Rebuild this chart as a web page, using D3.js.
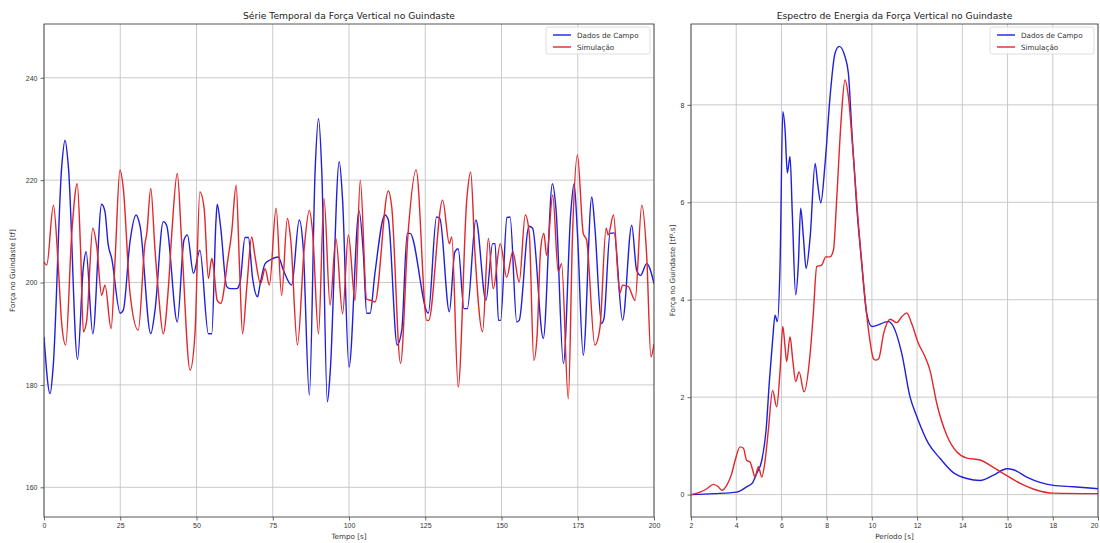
<!DOCTYPE html>
<html>
<head>
<meta charset="utf-8">
<script src="https://cdn.jsdelivr.net/npm/d3@7/dist/d3.min.js"></script>
<style>
  html, body { margin: 0; padding: 0; background: #fff; }
  svg { display: block; font-family: "DejaVu Sans", sans-serif; }
  .tick text { fill: #333; font-size: 7px; }
  .tick line { stroke: #444; }
</style>
</head>
<body>
<svg id="chart" width="1100" height="543"></svg>
<script>
// ---- Série temporal (força vertical, tf) ----
const timeField = [0,2,3,5.8,6.9,8,11,12.9,13.8,16,18.9,20,21,22.2,25,26,28.2,30.2,31.5,35,36.4,39.1,40.2,43.7,45.9,47,49,51.1,53.9,55,56.4,56.8,57.9,59.9,61,63.2,64.3,65.9,67,68.4,70,70.8,72.5,74.1,76.8,78.5,81.2,83.7,85,87,88.9,90,91.1,92.9,93.8,96.8,97.9,100,103.3,104.7,105.8,106.9,108.5,111.8,112.9,115.8,117.3,119.1,120,126,128.7,129.8,132.9,134.7,135.8,137.7,138.8,141.6,144.9,147.1,147.9,149,149.7,151.8,152.8,155,155.8,159,160.2,163.7,166.7,167.9,170.3,172.7,173.8,174.9,176.8,179.6,180.6,182.8,183.6,185.6,186.9,189.7,192.7,194.3,195.6,197.6,200];
const forceField = [189.4,178.3,183.5,222.6,227.8,222.6,185,203,206,190,215.3,213.8,207.6,204.7,194,194.6,208,213.2,211,190,194.6,211.9,211.2,192.3,208.3,209.3,201.8,206.3,190,190,212.2,215.3,210.9,199.2,198.8,198.8,200.1,208.8,208.8,200.8,197.2,199.5,203.7,204.4,205,202.4,199.5,212.2,206.6,178,222,232,221.3,176.7,182.2,223.6,216.1,183.5,214,205.7,194,194,201.8,213.2,212.2,187.8,190.7,209.6,209.6,194,212.8,212.5,194.3,206,206.6,194.9,194.9,212.2,196.5,207.6,207.6,192.6,192.6,212.7,212.8,192.3,192.6,211,210.6,189.1,219.3,214.1,184.2,213.5,219.3,209.6,185.8,216.7,210.9,192,193,209.6,209.7,192.6,211.2,202.4,201.4,203.7,199.8];

const timeSim = [0,0.9,3.1,4.7,5.8,7.1,9.1,10.9,12,12.9,14,16,17.3,18.9,20,22,23.3,24.9,26,28.2,30.9,33.1,33.7,35,36.4,37.5,39.1,40.8,41.9,43.7,45.1,47.9,49.5,51.1,52.5,53.9,55,55.5,56.8,57.9,60.4,61.5,63,64.1,65.1,66.5,68.1,69.2,71,72.5,73.9,76.1,77.9,79.8,80.9,83.1,85.3,87,88.1,90,91.8,93.8,95.7,97.9,99.8,102,103.7,105.8,107.4,108.5,112.9,114,116.9,119.4,122,125.5,126.1,130.7,132.9,133.7,135.8,138.6,139.9,141.3,143.8,145.7,147.3,149.6,151.7,153.7,155.8,157.8,159.1,160.6,161.7,162.8,163.9,164.8,166.8,168.6,169.7,171.9,173.3,174.9,176.8,177.9,180.6,182.3,184.3,185,186.7,188.8,189.7,191.6,193.8,196,197.6,199,200];
const forceSim = [204,203.4,215.1,203,192,187.8,209.6,219.3,206.3,190.4,192.6,210.6,207,197.5,199.5,191,204.4,222,218.4,197.9,190.7,207.6,209.6,218.4,206.3,198.2,190,199.2,209.6,221.3,208.3,182.9,190,217.7,214.5,200.8,204.7,203.4,196.5,195.9,205,209.6,219,203.1,190,199.2,208.9,205,199.8,202.7,199.5,214.5,197.5,212.5,208.3,187.8,206.6,214.1,209.6,190,216.4,195.6,208.6,193.9,209.3,196.5,220,196.7,196.5,196.2,217.9,214.8,184.2,209.9,222,192.6,192.6,216.1,207.6,208.9,179.6,216.1,221.6,205.7,190.4,208.6,198.8,207.6,201,206,200.1,213.2,209.6,184.8,190,206.3,209.6,205.3,217.1,202.1,203.7,177.3,209.6,224.9,209.6,208.3,187.8,191.3,210.6,209.3,213.2,197.9,199.5,199.2,196.5,215.1,205.3,185.5,188];

// ---- Espectro de energia (tf².s) ----
const periodField = [2,3,4.02,4.46,4.7,4.9,5.13,5.32,5.47,5.61,5.72,5.82,5.94,6.06,6.16,6.26,6.38,6.48,6.63,6.75,6.85,6.97,7.09,7.27,7.49,7.6,7.74,7.93,8.15,8.37,8.56,8.81,8.96,9.11,9.33,9.55,9.77,10,10.73,10.95,11.32,11.69,11.99,12.5,13.02,13.6,14.2,14.79,15.38,15.97,16.26,16.85,17.44,18.03,18.91,20];
const energyField = [0,0.02,0.05,0.16,0.23,0.43,0.7,1.32,2.35,3.17,3.68,3.55,4.75,7.86,7.49,6.6,6.94,5.77,4.1,4.75,5.88,5.29,4.64,5.29,6.8,6.39,5.99,6.8,8.17,9.06,9.2,8.99,8.65,7.49,5.91,4.75,3.72,3.45,3.55,3.45,2.9,2.0,1.6,1.05,0.74,0.45,0.33,0.29,0.4,0.53,0.51,0.36,0.25,0.19,0.16,0.12];

const periodSim = [2,2.4,2.7,2.99,3.21,3.36,3.58,3.8,3.95,4.17,4.32,4.46,4.61,4.73,4.83,4.98,5.13,5.27,5.42,5.61,5.79,5.94,6.06,6.16,6.23,6.38,6.5,6.63,6.78,7,7.27,7.41,7.56,7.78,7.96,8.15,8.3,8.45,8.64,8.81,8.96,9.18,9.4,9.63,9.85,10.07,10.15,10.3,10.52,10.81,11.1,11.32,11.54,11.76,12.06,12.35,12.57,12.87,13.31,13.75,14.2,14.79,15.23,15.82,16.56,17.3,18.03,20];
const energySim = [0,0.05,0.12,0.21,0.16,0.09,0.19,0.43,0.7,0.98,0.95,0.7,0.67,0.5,0.36,0.57,0.36,0.67,1.32,2.14,1.8,2.55,3.45,3.03,2.73,3.24,2.76,2.32,2.52,2.11,2.9,3.72,4.68,4.71,4.88,4.88,5.02,6.12,7.69,8.51,8.17,6.94,5.57,4.34,3.38,2.79,2.76,2.79,3.31,3.6,3.53,3.65,3.73,3.51,3.1,2.83,2.55,1.87,1.22,0.88,0.75,0.71,0.6,0.43,0.23,0.09,0.03,0.02];

const timeTicks = [0,25,50,75,100,125,150,175,200];
const forceTicks = [160,180,200,220,240];
const periodTicks = [2,4,6,8,10,12,14,16,18,20];
const energyTicks = [0,2,4,6,8];

const seriesNames = ["Dados de Campo", "Simulação"];
const seriesColors = ["#1f1fdc", "#e3262a"];

const svg = d3.select("#chart");

function panel(cfg) {
  const { x0, x1, y0, y1 } = cfg;
  const x = d3.scaleLinear().domain(cfg.xDomain).range([x0, x1]);
  const y = d3.scaleLinear().domain(cfg.yDomain).range([y1, y0]);
  const g = svg.append("g");

  // grid
  g.append("g").selectAll("line").data(cfg.xTicks).join("line")
    .attr("x1", d => x(d)).attr("x2", d => x(d)).attr("y1", y0).attr("y2", y1)
    .attr("stroke", "#c4c4c4").attr("stroke-width", 0.9);
  g.append("g").selectAll("line").data(cfg.yTicks).join("line")
    .attr("x1", x0).attr("x2", x1).attr("y1", d => y(d)).attr("y2", d => y(d))
    .attr("stroke", "#c4c4c4").attr("stroke-width", 0.9);

  // series
  const clipId = "clip" + Math.round(x0);
  svg.append("clipPath").attr("id", clipId).append("rect")
    .attr("x", x0).attr("y", y0).attr("width", x1 - x0).attr("height", y1 - y0);
  const line = d3.line().x(d => x(d[0])).y(d => y(d[1])).curve(d3.curveMonotoneX);
  cfg.series.forEach((s, i) => {
    g.append("path")
      .datum(d3.zip(s[0], s[1]))
      .attr("clip-path", `url(#${clipId})`)
      .attr("fill", "none")
      .attr("stroke", seriesColors[i])
      .attr("stroke-width", 1.4)
      .attr("stroke-linejoin", "round")
      .attr("d", line);
  });

  // axes
  const ax = g.append("g").attr("transform", `translate(0,${y1})`)
    .call(d3.axisBottom(x).tickValues(cfg.xTicks).tickSize(3.5).tickPadding(3));
  const ay = g.append("g").attr("transform", `translate(${x0},0)`)
    .call(d3.axisLeft(y).tickValues(cfg.yTicks).tickSize(3.5).tickPadding(3));
  ax.select(".domain").remove();
  ay.select(".domain").remove();
  g.selectAll(".tick line").attr("stroke", "#444").attr("stroke-width", 0.8);
  // keep the last x tick label inside the page
  ax.selectAll(".tick text").filter(d => x(d) > 1090).attr("text-anchor", "end").attr("dx", 0);

  // frame
  g.append("rect").attr("x", x0).attr("y", y0).attr("width", x1 - x0).attr("height", y1 - y0)
    .attr("fill", "none").attr("stroke", "#444").attr("stroke-width", 0.9);

  // title and labels
  g.append("text").attr("x", (x0 + x1) / 2).attr("y", 19).attr("text-anchor", "middle")
    .attr("font-size", 9.2).attr("fill", "#222").text(cfg.title);
  g.append("text").attr("x", (x0 + x1) / 2).attr("y", 539).attr("text-anchor", "middle")
    .attr("font-size", 7.2).attr("fill", "#333").text(cfg.xLabel);
  g.append("text").attr("transform", `translate(${cfg.yLabelX},${(y0 + y1) / 2}) rotate(-90)`)
    .attr("text-anchor", "middle").attr("font-size", 7.2).attr("fill", "#333").text(cfg.yLabel);

  // legend
  const lw = 104, lx = x1 - 4 - lw, ly = 27;
  const lg = g.append("g");
  lg.append("rect").attr("x", lx).attr("y", ly).attr("width", lw).attr("height", 27)
    .attr("rx", 2).attr("fill", "#fff").attr("fill-opacity", 0.85)
    .attr("stroke", "#d6d6d6").attr("stroke-width", 0.8);
  seriesNames.forEach((name, i) => {
    const yy = ly + 8 + i * 12;
    lg.append("line").attr("x1", lx + 7).attr("x2", lx + 25).attr("y1", yy).attr("y2", yy)
      .attr("stroke", seriesColors[i]).attr("stroke-width", 1.4);
    lg.append("text").attr("x", lx + 31).attr("y", yy + 2.5).attr("font-size", 7.2)
      .attr("fill", "#333").text(name);
  });
}

panel({
  x0: 44, x1: 654, y0: 24, y1: 517,
  xDomain: [0, 200], yDomain: [154.2, 250.5],
  xTicks: timeTicks, yTicks: forceTicks,
  series: [[timeField, forceField], [timeSim, forceSim]],
  title: "Série Temporal da Força Vertical no Guindaste",
  xLabel: "Tempo [s]", yLabel: "Força no Guindaste [tf]", yLabelX: 15
});

panel({
  x0: 691, x1: 1098, y0: 24, y1: 517,
  xDomain: [2, 20], yDomain: [-0.46, 9.66],
  xTicks: periodTicks, yTicks: energyTicks,
  series: [[periodField, energyField], [periodSim, energySim]],
  title: "Espectro de Energia da Força Vertical no Guindaste",
  xLabel: "Período [s]", yLabel: "Força no Guindaste [tf².s]", yLabelX: 675
});
</script>
</body>
</html>
